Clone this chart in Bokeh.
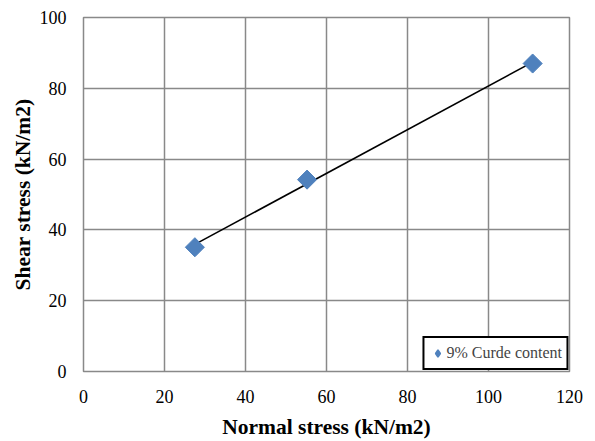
import numpy as np
from bokeh.plotting import figure
from bokeh.models import Legend, LegendItem, FixedTicker, Range1d
from bokeh.embed import file_html
from bokeh.resources import INLINE

# data
normal_stress = [27.5, 55.2, 110.9]
shear_stress = [35.1, 54.2, 87.0]
x_ticks = [0, 20, 40, 60, 80, 100, 120]
y_ticks = [0, 20, 40, 60, 80, 100]
series_name = "9% Curde content"
x_title = "Normal stress (kN/m2)"
y_title = "Shear stress (kN/m2)"

FONT = "Liberation Serif"
GRID = "#898989"
BLUE = "#4F81BD"

p = figure(width=595, height=441, output_backend="svg", toolbar_location=None,
           x_range=Range1d(0, 120), y_range=Range1d(0, 100),
           min_border_left=83, min_border_top=17, min_border_right=26,
           min_border_bottom=70)
p.background_fill_color = "white"
p.border_fill_color = "white"
p.outline_line_color = GRID
p.outline_line_width = 1.5

for ax, ticks in ((p.xaxis[0], x_ticks), (p.yaxis[0], y_ticks)):
    ax.ticker = FixedTicker(ticks=ticks)
    ax.axis_line_color = None
    ax.major_tick_line_color = None
    ax.minor_tick_line_color = None
    ax.major_tick_out = 0
    ax.major_tick_in = 0
    ax.major_label_text_font = FONT
    ax.major_label_text_font_size = "18px"
    ax.major_label_text_color = "black"
    ax.axis_label_text_font = FONT
    ax.axis_label_text_font_size = "21.5px"
    ax.axis_label_text_font_style = "bold"
    ax.axis_label_text_color = "black"

p.xaxis[0].axis_label = x_title
p.yaxis[0].axis_label = y_title
p.xaxis[0].major_label_standoff = 18
p.yaxis[0].major_label_standoff = 17
p.xaxis[0].axis_label_standoff = 9
p.yaxis[0].axis_label_standoff = 2

p.xgrid.ticker = FixedTicker(ticks=x_ticks)
p.ygrid.ticker = FixedTicker(ticks=y_ticks)
for g in (p.xgrid[0], p.ygrid[0]):
    g.grid_line_color = GRID
    g.grid_line_width = 1.5

# linear trendline fitted to the points
coef = np.polyfit(normal_stress, shear_stress, 1)
fx = [min(normal_stress), max(normal_stress)]
fy = list(np.polyval(coef, fx))
p.line(fx, fy, line_color="black", line_width=1.6)

sc = p.scatter(normal_stress, shear_stress, marker="square", size=13.5,
               angle=np.pi / 4, fill_color=BLUE, line_color=BLUE)

# legend swatch: a diamond marker (legend glyphs ignore marker rotation);
# the renderer itself is hidden, only its legend glyph is drawn
swatch = p.scatter(normal_stress, shear_stress, marker="diamond",
                   fill_color=BLUE, line_color=BLUE, line_width=1.5)
swatch.visible = False

legend = Legend(items=[LegendItem(label=series_name, renderers=[swatch])],
                location="bottom_right", border_line_color="black",
                border_line_alpha=1.0, border_line_width=2,
                label_text_font=FONT, label_text_font_size="16px",
                glyph_width=18, glyph_height=22, label_height=22,
                padding=4, margin=1, spacing=0, label_standoff=0,
                background_fill_alpha=1.0, inactive_fill_alpha=0.0)
p.add_layout(legend)

open("out.html", "w").write(file_html(p, INLINE))
